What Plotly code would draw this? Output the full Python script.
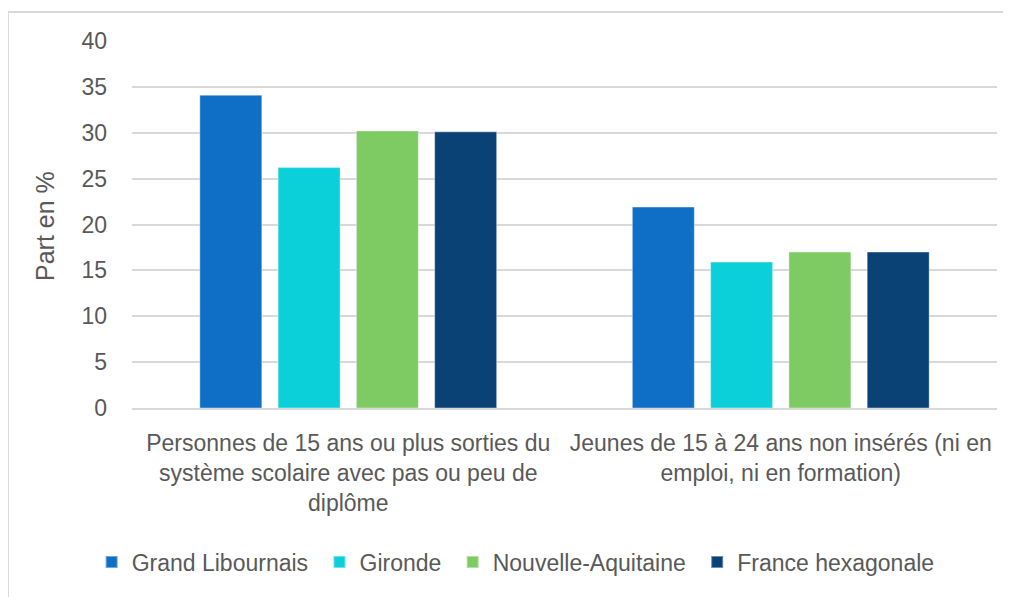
import plotly.graph_objects as go

categories = [
    "Personnes de 15 ans ou plus sorties du<br>système scolaire avec pas ou peu de<br>diplôme",
    "Jeunes de 15 à 24 ans non insérés (ni en<br>emploi, ni en formation)",
]
grand_libournais = [34.1, 21.9]
gironde = [26.2, 15.9]
nouvelle_aquitaine = [30.2, 17.0]
france_hexagonale = [30.1, 17.0]

series = [
    ("Grand Libournais", grand_libournais, "#0F6FC6"),
    ("Gironde", gironde, "#0BD0D9"),
    ("Nouvelle-Aquitaine", nouvelle_aquitaine, "#7ECB63"),
    ("France hexagonale", france_hexagonale, "#0B4276"),
]

font = "Liberation Sans, Arial, sans-serif"
grey = "#595959"
pad = "\u00a0"

fig = go.Figure()
for name, vals, col in series:
    fig.add_trace(go.Bar(
        x=categories, y=vals, name=name + pad,
        marker=dict(color=col, line=dict(color="rgba(255,255,255,0.4)", width=1)),
    ))

# page body has an 8px margin, so the margins are shifted to compensate
fig.update_layout(
    width=1011, height=597,
    margin=dict(l=124, r=22, t=33, b=197, autoexpand=False),
    paper_bgcolor="white", plot_bgcolor="white",
    font=dict(family=font, color=grey, size=23),
    barmode="group", bargap=0.276, bargroupgap=0.208,
    showlegend=True,
    legend=dict(orientation="h", x=0.447, xanchor="center", y=-0.42, yanchor="middle",
                font=dict(size=23, color=grey), itemsizing="constant"),
    xaxis=dict(showgrid=False, showline=True, linecolor="#D9D9D9", linewidth=1.5,
               tickangle=0, automargin=False,
               tickfont=dict(size=23, color=grey), ticklabelstandoff=14),
    yaxis=dict(range=[0, 40], dtick=5, showgrid=True, gridcolor="#D9D9D9", gridwidth=1.5,
               zeroline=False, automargin=False,
               tickfont=dict(size=23, color=grey), ticklabelstandoff=24),
    shapes=[
        dict(type="line", xref="paper", yref="paper", x0=-0.1434, x1=1.03, y0=1.079, y1=1.079,
             line=dict(color="#D9D9D9", width=2)),
        dict(type="line", xref="paper", yref="paper", x0=-0.1434, x1=-0.1434, y0=1.079, y1=-0.55,
             line=dict(color="#D9D9D9", width=2)),
    ],
    annotations=[
        dict(text="Part en %", xref="paper", yref="paper", x=(45 - 132) / 865, y=0.496,
             textangle=-90, showarrow=False, font=dict(size=25, color=grey),
             xanchor="center", yanchor="middle"),
    ],
)

fig.write_html("out.html")
